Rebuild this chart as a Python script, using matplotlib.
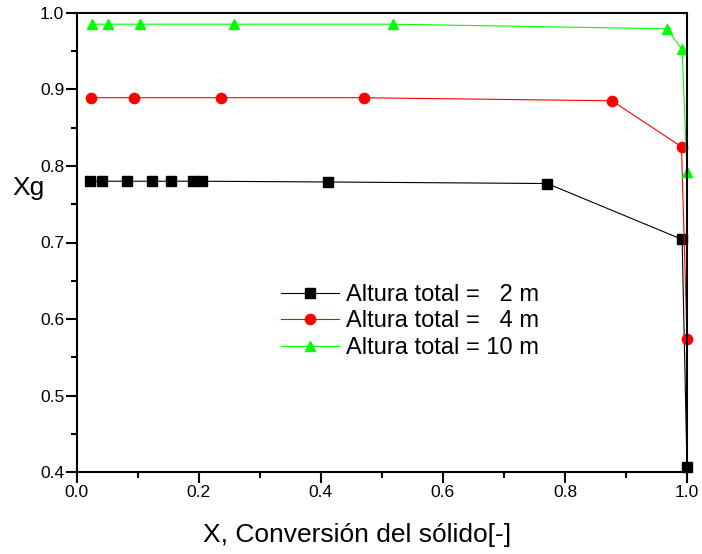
import matplotlib
matplotlib.use("Agg")
import matplotlib.pyplot as plt
from matplotlib.ticker import MultipleLocator

plt.rcParams['font.family'] = ['Liberation Sans', 'DejaVu Sans']

# Data
x_2m = [0.021, 0.041, 0.083, 0.124, 0.155, 0.191, 0.206, 0.412, 0.771, 0.992, 1.000]
y_2m = [0.780, 0.780, 0.780, 0.780, 0.780, 0.780, 0.780, 0.779, 0.777, 0.704, 0.407]

x_4m = [0.023, 0.094, 0.237, 0.470, 0.877, 0.991, 1.000]
y_4m = [0.889, 0.889, 0.889, 0.889, 0.885, 0.825, 0.574]

x_10m = [0.025, 0.052, 0.103, 0.258, 0.519, 0.967, 0.992, 1.000]
y_10m = [0.985, 0.985, 0.985, 0.985, 0.985, 0.979, 0.952, 0.792]

labels = ["Altura total =   2 m", "Altura total =   4 m", "Altura total = 10 m"]
x_label = "X, Conversión del sólido[-]"
y_label = "Xg"

W, H = 702, 554
fig = plt.figure(figsize=(W / 100, H / 100), dpi=100)
x0, x1, y_top, y_bot = 76.7, 687.0, 12.7, 472.3
ax = fig.add_axes([x0 / W, 1 - y_bot / H, (x1 - x0) / W, (y_bot - y_top) / H])

ax.plot(x_2m, y_2m, color='black', lw=0.8, marker='s', ms=6.8, label=labels[0], clip_on=False)
ax.plot(x_4m, y_4m, color='#ff0000', lw=0.8, marker='o', ms=7.4, label=labels[1], clip_on=False)
ax.plot(x_10m, y_10m, color='#00ff00', lw=0.8, marker='^', ms=7.8, label=labels[2], clip_on=False)

ax.set_xlim(0.0, 1.0)
ax.set_ylim(0.4, 1.0)
ax.xaxis.set_major_locator(MultipleLocator(0.2))
ax.xaxis.set_minor_locator(MultipleLocator(0.1))
ax.yaxis.set_major_locator(MultipleLocator(0.1))
ax.yaxis.set_minor_locator(MultipleLocator(0.05))
ax.xaxis.set_major_formatter(plt.FormatStrFormatter('%.1f'))
ax.yaxis.set_major_formatter(plt.FormatStrFormatter('%.1f'))

ax.tick_params(which='major', direction='out', length=8, width=1.5, labelsize=12.5)
ax.tick_params(which='minor', direction='out', length=4, width=1.5)
ax.tick_params(axis='y', which='major', pad=1)
ax.tick_params(axis='x', which='major', pad=1.5)
for s in ax.spines.values():
    s.set_linewidth(1.5)

pw, ph = (x1 - x0), (y_bot - y_top)
ax.set_xlabel(x_label, fontsize=19)
ax.xaxis.label.set_va('baseline')
ax.xaxis.label.set_ha('center')
ax.xaxis.set_label_coords((357 - x0) / pw, (y_bot - 541.7) / ph)

ax.set_ylabel(y_label, fontsize=19, rotation=0)
ax.yaxis.label.set_va('baseline')
ax.yaxis.label.set_ha('left')
ax.yaxis.set_label_coords((12 - x0) / pw, (y_bot - 195) / ph)

leg = fig.legend(loc='upper left', bbox_to_anchor=(281 / W, 1 - 284 / H),
                 frameon=False, fontsize=17, handlelength=2.45, handletextpad=0.3,
                 labelspacing=0.19, borderpad=0, borderaxespad=0)

fig.savefig("out.png", dpi=100)
